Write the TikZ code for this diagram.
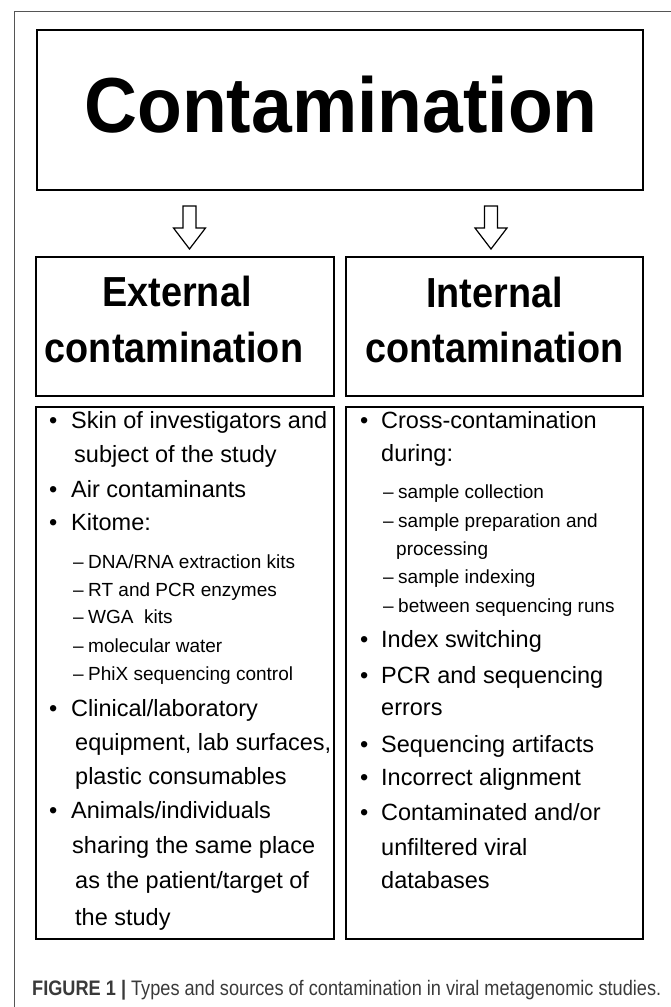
\documentclass[tikz,border=0pt]{standalone}
\usepackage{fontspec}
\setmainfont{Liberation Sans}
\newfontfamily\headfont{Liberation Sans}[FakeStretch=0.94]
\newfontfamily\subheadfont{Liberation Sans}[FakeStretch=0.9]
\newfontfamily\capfont{Liberation Sans}[FakeStretch=0.865]
\definecolor{framegray}{HTML}{555555}
\definecolor{capgray}{HTML}{3A3A3A}
\tikzset{
  box/.style={draw=black, line width=1.8pt, inner sep=0pt, fill=none},
  hollowarrow/.style={draw=black, line width=1.2pt, fill=white, line join=miter},
  bigtitle/.style={anchor=base, inner sep=0pt, font=\headfont\bfseries\fontsize{78}{80}\selectfont},
  subtitle/.style={anchor=base, inner sep=0pt, font=\subheadfont\bfseries\fontsize{42}{44}\selectfont},
  itm/.style={anchor=base west, inner sep=0pt, font=\fontsize{23.5}{28}\selectfont, text=black},
  subitm/.style={anchor=base west, inner sep=0pt, font=\fontsize{19}{22}\selectfont, text=black},
  captxt/.style={anchor=base west, inner sep=0pt, font=\capfont\fontsize{21}{24}\selectfont, text=capgray}
}
\begin{document}
\begin{tikzpicture}[x=1pt,y=-1pt]
\useasboundingbox (0,0) rectangle (671,1007);
% outer frame
\draw[framegray, line width=1pt] (14,1007) -- (14,11) -- (671,11);
% boxes
\node[box, minimum width=606pt, minimum height=160pt] (top) at (340,110) {};
\node[box, minimum width=298pt, minimum height=139pt] (ext) at (185,326.5) {};
\node[box, minimum width=297pt, minimum height=139pt] (int) at (494.5,326.5) {};
\node[box, minimum width=298pt, minimum height=532pt] (extlist) at (185,673) {};
\node[box, minimum width=297pt, minimum height=532pt] (intlist) at (494.5,673) {};
% titles
\node[bigtitle] (toptxt) at (341,132) {Contamination};
\node[subtitle] (ext1) at (177,306) {External};
\node[subtitle] (ext2) at (174,362) {contamination};
\node[subtitle] (int1) at (494.5,307) {Internal};
\node[subtitle] (int2) at (494.5,362) {contamination};
% hollow arrows
\coordinate (a1) at (189.5,206);
\coordinate (a2) at (491,206);
\foreach \a in {a1,a2}{
  \draw[hollowarrow] (\a) ++(-6.5,0) -- ++(0,22) -- ++(-9.5,0) -- ++(16,21) -- ++(16,-21) -- ++(-9.5,0) -- ++(0,-22) -- cycle;
}
% left list
\node[itm] (lb1) at (49,428) {•};
\node[itm] (l1) at (71,428) {Skin of investigators and};
\node[itm] (l2) at (74,462) {subject of the study};
\node[itm] (lb2) at (49,497) {•};
\node[itm] (l3) at (71,497) {Air contaminants};
\node[itm] (lb3) at (49,530) {•};
\node[itm] (l4) at (71,530) {Kitome:};
\node[subitm] (ld1) at (73,568) {–};
\node[subitm] (l5) at (88,568) {DNA/RNA extraction kits};
\node[subitm] (ld2) at (73,596) {–};
\node[subitm] (l6) at (88,596) {RT and PCR enzymes};
\node[subitm] (ld3) at (73,623) {–};
\node[subitm] (l7) at (88,623) {WGA\ \ kits};
\node[subitm] (ld4) at (73,652) {–};
\node[subitm] (l8) at (88,652) {molecular water};
\node[subitm] (ld5) at (73,680) {–};
\node[subitm] (l9) at (88,680) {PhiX sequencing control};
\node[itm] (lb4) at (49,716) {•};
\node[itm] (l10) at (71,716) {Clinical/laboratory};
\node[itm] (l11) at (75,750) {equipment, lab surfaces,};
\node[itm] (l12) at (75,784) {plastic consumables};
\node[itm] (lb5) at (49,818) {•};
\node[itm] (l13) at (71,818) {Animals/individuals};
\node[itm] (l14) at (72,853) {sharing the same place};
\node[itm] (l15) at (75,888) {as the patient/target of};
\node[itm] (l16) at (75,925) {the study};
% right list
\node[itm] (rb1) at (360,428) {•};
\node[itm] (r1) at (381,428) {Cross-contamination};
\node[itm] (r2) at (381,461) {during:};
\node[subitm] (rd1) at (383,498) {–};
\node[subitm] (r3) at (398,498) {sample collection};
\node[subitm] (rd2) at (383,527) {–};
\node[subitm] (r4) at (398,527) {sample preparation and};
\node[subitm] (r5) at (396,555) {processing};
\node[subitm] (rd3) at (383,583) {–};
\node[subitm] (r6) at (398,583) {sample indexing};
\node[subitm] (rd4) at (383,612) {–};
\node[subitm] (r7) at (398,612) {between sequencing runs};
\node[itm] (rb2) at (360,647) {•};
\node[itm] (r8) at (381,647) {Index switching};
\node[itm] (rb3) at (360,683) {•};
\node[itm] (r9) at (381,683) {PCR and sequencing};
\node[itm] (r10) at (381,715) {errors};
\node[itm] (rb4) at (360,752) {•};
\node[itm] (r11) at (381,752) {Sequencing artifacts};
\node[itm] (rb5) at (360,785) {•};
\node[itm] (r12) at (381,785) {Incorrect alignment};
\node[itm] (rb6) at (360,820) {•};
\node[itm] (r13) at (381,820) {Contaminated and/or};
\node[itm] (r14) at (381,855) {unfiltered viral};
\node[itm] (r15) at (381,888) {databases};
% caption
\node[captxt] (cap) at (32,995) {\textbf{FIGURE 1 |} Types and sources of contamination in viral metagenomic studies.};
\end{tikzpicture}
\end{document}
